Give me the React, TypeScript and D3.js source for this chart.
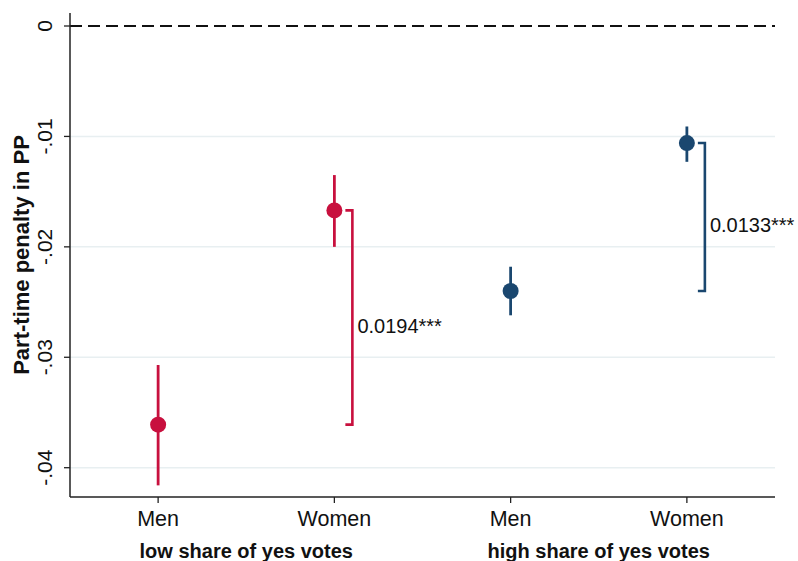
import React from "react";
import * as d3 from "d3";

const categories = ["Men", "Women", "Men", "Women"];
const groups = ["low share of yes votes", "high share of yes votes"];
const estimates = [-0.0361, -0.0167, -0.0240, -0.0106];
const ciLow = [-0.0416, -0.0200, -0.0262, -0.0123];
const ciHigh = [-0.0307, -0.0135, -0.0218, -0.0091];
const groupOf = [0, 0, 1, 1];
const diffs = [
  { from: 1, to: 0, label: "0.0194***", group: 0 },
  { from: 3, to: 2, label: "0.0133***", group: 1 },
];
const yTicks = [0, -0.01, -0.02, -0.03, -0.04];
const yTickLabels = ["0", "-.01", "-.02", "-.03", "-.04"];
const colors = ["#c8103e", "#1a476f"];

const W = 798;
const H = 561;
const FONT = "'Liberation Sans', Arial, Helvetica, sans-serif";

export default function App() {
  const x = d3.scaleLinear().domain([-0.5, 3.5]).range([70, 775]);
  const y = d3.scaleLinear().domain([0, -0.04]).range([26, 467.7]);
  const yTop = y.invert(13);
  const yBot = y.invert(497);

  return (
    <svg
      width={W}
      height={H}
      style={{ position: "absolute", left: 0, top: 0, background: "#fff" }}
      fontFamily={FONT}
    >
      <rect x={0} y={0} width={W} height={H} fill="#fff" />
      {/* gridlines */}
      {yTicks.filter((t) => t !== 0).map((t) => (
        <line key={"g" + t} x1={x(-0.5)} x2={x(3.5)} y1={y(t)} y2={y(t)} stroke="#e8eff1" strokeWidth={1.5} />
      ))}
      {/* zero dashed line */}
      <line x1={x(-0.5)} x2={x(3.5)} y1={y(0)} y2={y(0)} stroke="#111" strokeWidth={1.8} strokeDasharray="12 6" />
      {/* axes */}
      <line x1={x(-0.5)} x2={x(-0.5)} y1={y(yTop)} y2={y(yBot)} stroke="#222" strokeWidth={1.5} />
      <line x1={x(-0.5)} x2={x(3.5)} y1={y(yBot)} y2={y(yBot)} stroke="#222" strokeWidth={1.5} />
      {yTicks.map((t, i) => (
        <g key={"yt" + t}>
          <line x1={x(-0.5) - 6} x2={x(-0.5)} y1={y(t)} y2={y(t)} stroke="#222" strokeWidth={1.3} />
          <text
            transform={`translate(52,${y(t)}) rotate(-90)`}
            textAnchor="middle"
            fontSize={21}
            fill="#111"
          >
            {yTickLabels[i]}
          </text>
        </g>
      ))}
      <text
        transform={`translate(29,255) rotate(-90)`}
        textAnchor="middle"
        fontSize={22}
        fontWeight="bold"
        fill="#111"
      >
        Part-time penalty in PP
      </text>
      {categories.map((c, i) => (
        <g key={"xt" + i}>
          <line x1={x(i)} x2={x(i)} y1={y(yBot)} y2={y(yBot) + 6} stroke="#222" strokeWidth={1.3} />
          <text x={x(i)} y={526} textAnchor="middle" fontSize={21.5} fill="#111">
            {c}
          </text>
        </g>
      ))}
      {groups.map((g, gi) => (
        <text
          key={"grp" + gi}
          x={(x(gi * 2) + x(gi * 2 + 1)) / 2}
          y={558}
          textAnchor="middle"
          fontSize={20}
          fontWeight="bold"
          fill="#111"
        >
          {g}
        </text>
      ))}
      {/* CIs and points */}
      {estimates.map((e, i) => (
        <g key={"p" + i}>
          <line x1={x(i)} x2={x(i)} y1={y(ciLow[i])} y2={y(ciHigh[i])} stroke={colors[groupOf[i]]} strokeWidth={2.8} />
          <circle cx={x(i)} cy={y(e)} r={8} fill={colors[groupOf[i]]} />
        </g>
      ))}
      {/* brackets */}
      {diffs.map((d, k) => {
        const bx = x(d.from) + 18;
        const y1 = y(estimates[d.from]);
        const y2 = y(estimates[d.to]);
        const col = colors[d.group];
        return (
          <g key={"b" + k}>
            <path
              d={`M${bx - 7},${y1} H${bx} V${y2} H${bx - 7}`}
              fill="none"
              stroke={col}
              strokeWidth={2.6}
            />
            <text x={bx + 5} y={(y1 + y2) / 2 + 15} fontSize={20} fill="#111">
              {d.label}
            </text>
          </g>
        );
      })}
    </svg>
  );
}
